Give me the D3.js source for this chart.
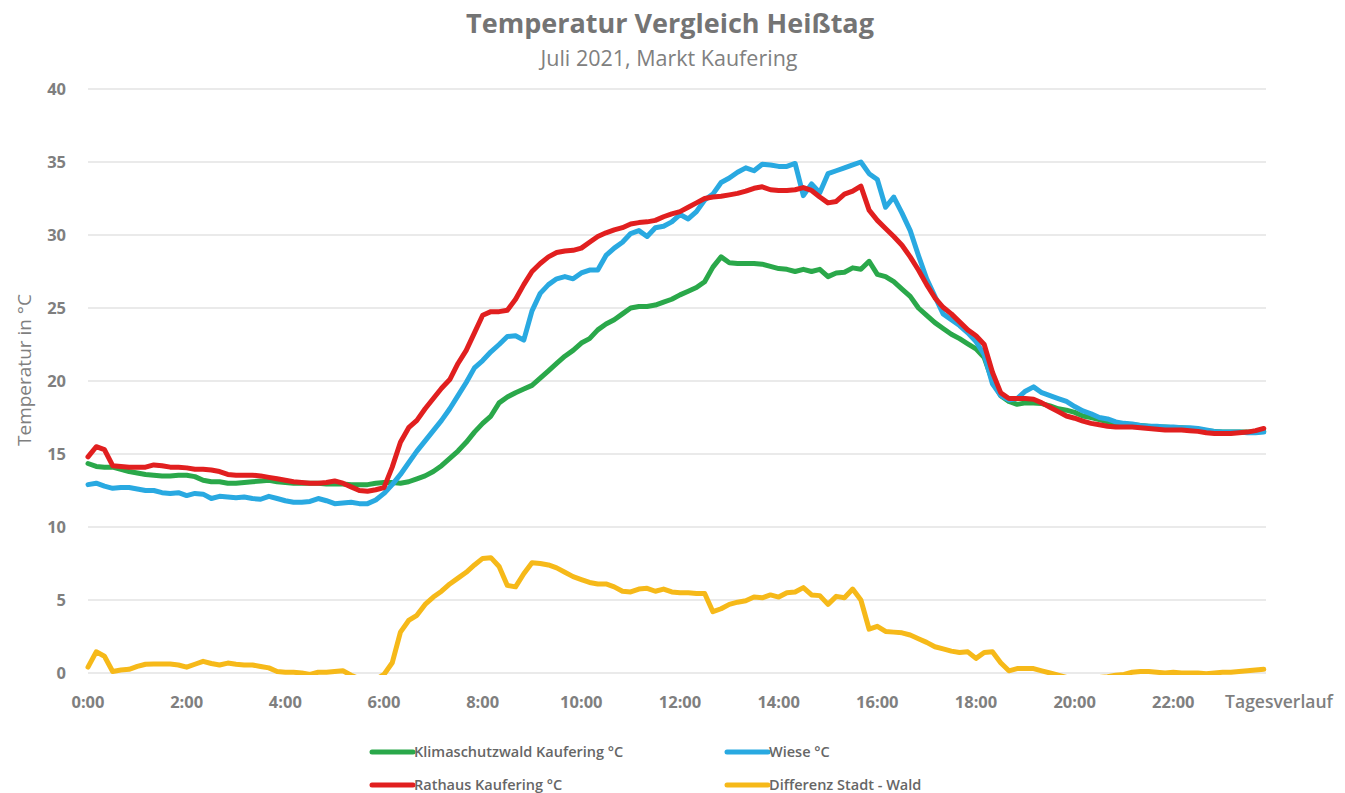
<!DOCTYPE html>
<html>
<head>
<meta charset="utf-8">
<script src="https://cdn.jsdelivr.net/npm/d3@7"></script>
<style>
	html, body { margin: 0; padding: 0; background: #fff; }
	svg { display: block; font-family: "Open Sans", sans-serif; }
</style>
</head>
<body>
<div id="chart"></div>
<script>
// 10-minute readings, 0:00 .. 23:50
const wald = [
	14.35, 14.15, 14.1, 14.1, 13.95, 13.8, 13.7, 13.6, 13.55, 13.5, 13.5, 13.55,
	13.55, 13.45, 13.2, 13.1, 13.1, 13.0, 13.0, 13.05, 13.1, 13.15, 13.2, 13.1,
	13.05, 13.0, 13.0, 13.0, 13.0, 12.95, 12.95, 12.95, 12.9, 12.9, 12.9, 13.0,
	13.05, 13.05, 13.0, 13.1, 13.3, 13.5, 13.8, 14.2, 14.7, 15.2, 15.8, 16.5,
	17.1, 17.6, 18.5, 18.9, 19.2, 19.45, 19.7, 20.2, 20.7, 21.2, 21.7, 22.1,
	22.6, 22.9, 23.5, 23.9, 24.2, 24.6, 25.0, 25.1, 25.1, 25.2, 25.4, 25.6,
	25.9, 26.15, 26.4, 26.8, 27.8, 28.5, 28.1, 28.05, 28.05, 28.05, 28.0, 27.85,
	27.7, 27.65, 27.5, 27.65, 27.5, 27.65, 27.15, 27.4, 27.45, 27.75, 27.65, 28.2,
	27.3, 27.15, 26.8, 26.3, 25.8, 25.0, 24.5, 24.0, 23.6, 23.2, 22.9, 22.55,
	22.2, 21.6, 20.0, 19.0, 18.6, 18.4, 18.5, 18.5, 18.45, 18.3, 18.1, 18.0,
	17.85, 17.6, 17.5, 17.35, 17.2, 17.1, 17.05, 17.0, 16.95, 16.9, 16.85, 16.85,
	16.8, 16.8, 16.75, 16.7, 16.6, 16.55, 16.5, 16.5, 16.5, 16.5, 16.5, 16.55
];
const wiese = [
	12.9, 13.0, 12.8, 12.65, 12.7, 12.7, 12.6, 12.5, 12.5, 12.35, 12.3, 12.35,
	12.15, 12.3, 12.25, 11.95, 12.1, 12.05, 12.0, 12.05, 11.95, 11.9, 12.1, 11.95,
	11.8, 11.7, 11.7, 11.75, 11.95, 11.8, 11.6, 11.65, 11.7, 11.6, 11.6, 11.85,
	12.3, 12.9, 13.6, 14.4, 15.2, 15.9, 16.6, 17.3, 18.1, 19.0, 19.9, 20.9,
	21.4, 22.0, 22.5, 23.05, 23.1, 22.8, 24.8, 26.0, 26.6, 27.0, 27.15, 27.0,
	27.4, 27.6, 27.6, 28.6, 29.1, 29.5, 30.1, 30.3, 29.9, 30.5, 30.6, 30.9,
	31.4, 31.1, 31.6, 32.4, 32.8, 33.6, 33.9, 34.3, 34.6, 34.4, 34.85, 34.8,
	34.7, 34.7, 34.9, 32.7, 33.5, 32.9, 34.2, 34.4, 34.6, 34.8, 35.0, 34.2,
	33.8, 31.9, 32.6, 31.5, 30.3, 28.6, 27.0, 25.8, 24.6, 24.2, 23.8, 23.3,
	22.7, 21.8, 19.8, 19.0, 18.7, 18.8, 19.3, 19.6, 19.2, 19.0, 18.8, 18.6,
	18.25, 17.95, 17.75, 17.5, 17.4, 17.2, 17.1, 17.05, 16.95, 16.9, 16.9, 16.85,
	16.85, 16.8, 16.8, 16.75, 16.65, 16.55, 16.5, 16.5, 16.5, 16.45, 16.45, 16.5
];
const rathaus = [
	14.8, 15.5, 15.3, 14.2, 14.15, 14.1, 14.1, 14.1, 14.25, 14.2, 14.1, 14.1,
	14.05, 13.95, 13.95, 13.9, 13.8, 13.6, 13.55, 13.55, 13.55, 13.5, 13.4, 13.3,
	13.2, 13.1, 13.05, 13.0, 13.0, 13.05, 13.15, 13.0, 12.75, 12.5, 12.45, 12.55,
	12.7, 14.1, 15.8, 16.8, 17.3, 18.1, 18.8, 19.5, 20.1, 21.2, 22.1, 23.3,
	24.5, 24.75, 24.75, 24.85, 25.6, 26.6, 27.5, 28.05, 28.5, 28.8, 28.9, 28.95,
	29.1, 29.5, 29.9, 30.15, 30.35, 30.5, 30.75, 30.85, 30.9, 31.0, 31.25, 31.45,
	31.6, 31.9, 32.2, 32.5, 32.6, 32.65, 32.75, 32.85, 33.0, 33.2, 33.3, 33.1,
	33.05, 33.05, 33.1, 33.25, 33.05, 32.6, 32.2, 32.3, 32.8, 33.0, 33.35, 31.7,
	31.0, 30.45, 29.9, 29.3, 28.5, 27.6, 26.6, 25.7, 25.05, 24.6, 24.05, 23.5,
	23.1, 22.5, 20.6, 19.2, 18.8, 18.8, 18.8, 18.75, 18.5, 18.2, 17.9, 17.6,
	17.45, 17.25, 17.1, 17.0, 16.9, 16.85, 16.85, 16.85, 16.8, 16.75, 16.7, 16.65,
	16.65, 16.65, 16.6, 16.55, 16.45, 16.4, 16.4, 16.4, 16.45, 16.5, 16.6, 16.75
];
const differenz = [
	0.4, 1.45, 1.15, 0.1, 0.2, 0.25, 0.45, 0.6, 0.62, 0.62, 0.62, 0.55,
	0.4, 0.6, 0.8, 0.65, 0.55, 0.68, 0.6, 0.55, 0.55, 0.45, 0.35, 0.1,
	0.05, 0.05, 0.0, -0.1, 0.05, 0.05, 0.1, 0.15, -0.15, -0.4, -0.45, -0.45,
	-0.1, 0.7, 2.8, 3.6, 3.95, 4.7, 5.2, 5.6, 6.1, 6.5, 6.9, 7.4,
	7.85, 7.9, 7.3, 6.0, 5.9, 6.8, 7.55, 7.5, 7.4, 7.2, 6.9, 6.6,
	6.4, 6.2, 6.1, 6.1, 5.9, 5.6, 5.55, 5.75, 5.8, 5.6, 5.75, 5.55,
	5.5, 5.5, 5.45, 5.45, 4.2, 4.4, 4.7, 4.85, 4.95, 5.2, 5.15, 5.35,
	5.2, 5.5, 5.55, 5.85, 5.35, 5.3, 4.7, 5.25, 5.15, 5.75, 5.0, 3.0,
	3.2, 2.85, 2.8, 2.75, 2.6, 2.35, 2.1, 1.8, 1.65, 1.5, 1.4, 1.45,
	1.0, 1.4, 1.45, 0.7, 0.15, 0.3, 0.3, 0.3, 0.15, 0.0, -0.15, -0.3,
	-0.4, -0.35, -0.3, -0.3, -0.25, -0.15, -0.1, 0.05, 0.1, 0.1, 0.05, 0.0,
	0.05, 0.0, 0.0, 0.0, -0.05, 0.0, 0.05, 0.05, 0.1, 0.15, 0.2, 0.25
];
const yTicks = [0, 5, 10, 15, 20, 25, 30, 35, 40];
const xTicks = [0, 2, 4, 6, 8, 10, 12, 14, 16, 18, 20, 22];
const xLabels = ['0:00', '2:00', '4:00', '6:00', '8:00', '10:00', '12:00', '14:00', '16:00', '18:00', '20:00', '22:00'];

const series = [
	{ name: 'Klimaschutzwald Kaufering °C', values: wald, color: '#2aa84a' },
	{ name: 'Wiese °C', values: wiese, color: '#29a9e1' },
	{ name: 'Rathaus Kaufering °C', values: rathaus, color: '#e11f1f' },
	{ name: 'Differenz Stadt - Wald', values: differenz, color: '#f6b919' }
];

(() => {
	const W = 1345, H = 793;
	const grey = '#7f7f7f';
	const svg = d3.select('#chart').append('svg')
		.attr('width', W)
		.attr('height', H);

	const x = d3.scaleLinear().domain([0, 24]).range([88, 1272]);
	const y = d3.scaleLinear().domain([0, 40]).range([673, 89]);
	const plotRight = 1266;

	// gridlines
	svg.append('g')
		.selectAll('line')
		.data(yTicks)
		.enter()
		.append('line')
		.attr('x1', x(0))
		.attr('x2', plotRight)
		.attr('y1', (d) => y(d))
		.attr('y2', (d) => y(d))
		.attr('stroke', '#e3e3e3')
		.attr('stroke-width', 1.5);

	// y tick labels
	svg.append('g')
		.selectAll('text')
		.data(yTicks)
		.enter()
		.append('text')
		.attr('x', 66)
		.attr('y', (d) => y(d))
		.attr('dy', '0.35em')
		.attr('text-anchor', 'end')
		.attr('fill', grey)
		.style('font-size', '16.5px')
		.style('font-weight', 700)
		.text((d) => d);

	// x tick labels
	svg.append('g')
		.selectAll('text')
		.data(xTicks)
		.enter()
		.append('text')
		.attr('x', (d) => x(d))
		.attr('y', 708)
		.attr('text-anchor', 'middle')
		.attr('fill', grey)
		.style('font-size', '16.5px')
		.style('font-weight', 700)
		.text((d, i) => xLabels[i]);

	svg.append('text')
		.attr('x', 1279)
		.attr('y', 708)
		.attr('text-anchor', 'middle')
		.attr('fill', grey)
		.style('font-size', '17.5px')
		.style('font-weight', 600)
		.text('Tagesverlauf');

	// axis title
	svg.append('text')
		.attr('transform', 'translate(31,370) rotate(-90)')
		.attr('text-anchor', 'middle')
		.attr('fill', grey)
		.style('font-size', '19px')
		.text('Temperatur in °C');

	// titles
	svg.append('text')
		.attr('x', 670)
		.attr('y', 33)
		.attr('text-anchor', 'middle')
		.attr('fill', '#747474')
		.style('font-size', '27px')
		.style('font-weight', 700)
		.text('Temperatur Vergleich Heißtag');

	svg.append('text')
		.attr('x', 669)
		.attr('y', 66)
		.attr('text-anchor', 'middle')
		.attr('fill', '#808080')
		.style('font-size', '21.5px')
		.text('Juli 2021, Markt Kaufering');

	// lines, clipped to the plot area
	svg.append('clipPath')
		.attr('id', 'plot-clip')
		.append('rect')
		.attr('x', 0)
		.attr('y', y(40) - 10)
		.attr('width', W)
		.attr('height', y(0) - y(40) + 12);

	const line = d3.line()
		.x((d, i) => x(i / 6))
		.y((d) => y(d));

	svg.append('g')
		.attr('clip-path', 'url(#plot-clip)')
		.selectAll('path')
		.data(series)
		.enter()
		.append('path')
		.attr('d', (d) => line(d.values))
		.attr('fill', 'none')
		.attr('stroke', (d) => d.color)
		.attr('stroke-width', 5)
		.attr('stroke-linejoin', 'round')
		.attr('stroke-linecap', 'round');

	// legend
	const legendPos = [[372, 752], [727, 752], [372, 785], [727, 785]];
	const legend = svg.append('g')
		.selectAll('g')
		.data(series)
		.enter()
		.append('g')
		.attr('transform', (d, i) => 'translate(' + legendPos[i][0] + ',' + legendPos[i][1] + ')');

	legend.append('line')
		.attr('x1', 0)
		.attr('x2', 41)
		.attr('stroke', (d) => d.color)
		.attr('stroke-width', 5)
		.attr('stroke-linecap', 'round');

	legend.append('text')
		.attr('x', 42)
		.attr('dy', '0.35em')
		.attr('fill', '#666')
		.style('font-size', '14.5px')
		.style('font-weight', 600)
		.text((d) => d.name);
})();
</script>
</body>
</html>
